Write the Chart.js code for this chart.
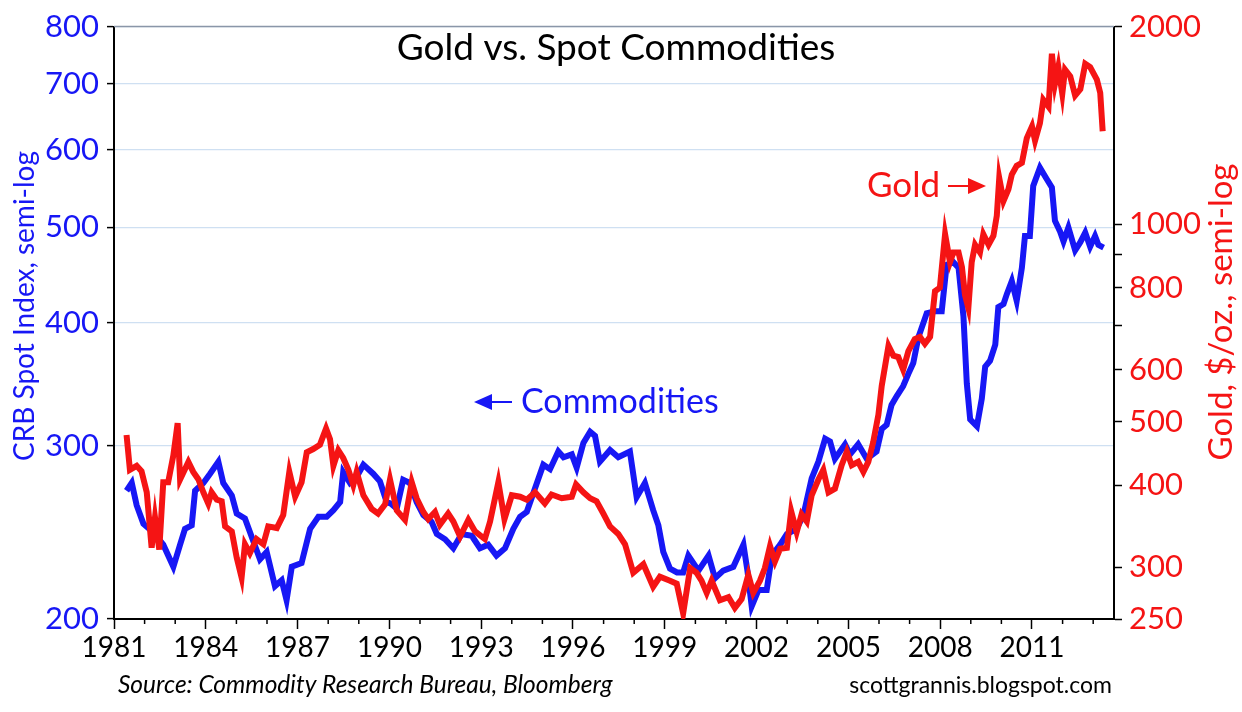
<!DOCTYPE html>
<html>
<head>
<meta charset="utf-8">
<script src="https://cdn.jsdelivr.net/npm/chart.js@4.4.1/dist/chart.umd.min.js"></script>
<style>
  html, body { margin: 0; padding: 0; background: #fff; }
  #wrap { width: 1242px; height: 712px; }
</style>
</head>
<body>
<div id="wrap"><canvas id="myChart" width="1242" height="712"></canvas></div>
<script>
// CRB spot index (left axis)
const crbYears = [1981.41, 1981.58, 1981.74, 1981.96, 1982.28, 1982.61, 1982.94, 1983.16, 1983.32, 1983.54, 1983.65, 1983.92,
  1984.14, 1984.41, 1984.57, 1984.85, 1985.01, 1985.28, 1985.55, 1985.77, 1985.99, 1986.26, 1986.48, 1986.64, 1986.81,
  1987.13, 1987.41, 1987.68, 1987.95, 1988.17, 1988.39, 1988.49, 1988.71, 1988.93, 1989.15, 1989.47, 1989.69, 1989.91,
  1990.05, 1990.24, 1990.45, 1990.67, 1990.89, 1991.11, 1991.38, 1991.55, 1991.82, 1992.09, 1992.36, 1992.69, 1992.96,
  1993.23, 1993.5, 1993.78, 1994.05, 1994.27, 1994.49, 1994.82, 1995.03, 1995.25, 1995.52, 1995.69, 1995.96, 1996.12,
  1996.34, 1996.56, 1996.72, 1996.88, 1997.21, 1997.48, 1997.86, 1998.08, 1998.35, 1998.62, 1998.79, 1998.95, 1999.17,
  1999.4, 1999.6, 1999.77, 2000.1, 2000.43, 2000.64, 2000.91, 2001.24, 2001.57, 2001.7, 2001.84, 2002.06, 2002.33, 2002.5,
  2002.77, 2002.99, 2003.31, 2003.53, 2003.8, 2004.02, 2004.24, 2004.4, 2004.56, 2004.89, 2005.05, 2005.32, 2005.6,
  2005.92, 2006.09, 2006.25, 2006.41, 2006.58, 2006.79, 2006.96, 2007.12, 2007.29, 2007.56, 2007.83, 2008.05, 2008.21,
  2008.43, 2008.6, 2008.76, 2008.87, 2008.98, 2009.2, 2009.36, 2009.47, 2009.63, 2009.8, 2009.9, 2010.07, 2010.18, 2010.34,
  2010.5, 2010.67, 2010.77, 2010.93, 2011.04, 2011.26, 2011.48, 2011.65, 2011.75, 2011.92, 2012.03, 2012.19, 2012.41,
  2012.58, 2012.74, 2012.9, 2013.06, 2013.17, 2013.34];
const crbValues = [270, 275, 261, 250, 245, 238, 226, 238, 247, 249, 270, 275,
  281, 289, 275, 267, 256, 253, 240, 230, 234, 216, 219, 209, 226,
  228, 247, 254, 254, 258, 263, 282, 275, 279, 287, 281, 276, 263,
  262, 259, 277, 275, 263, 255, 251, 244, 241, 236, 244, 243, 236,
  238, 232, 236, 247, 254, 257, 275, 287, 284, 296, 292, 294, 285,
  302, 310, 307, 289, 297, 292, 296, 266, 275, 258, 249, 234, 225,
  223, 223, 232, 224, 232, 220, 224, 226, 238, 224, 206, 214, 214, 232,
  238, 244, 247, 255, 278, 289, 305, 303, 291, 301, 294, 301, 291,
  296, 312, 315, 330, 337, 345, 355, 364, 387, 409, 411, 411, 458,
  461, 455, 406, 347, 319, 314, 335, 361, 366, 380, 415, 418, 428, 441,
  421, 455, 490, 490, 551, 575, 560, 549, 508, 495, 484, 500, 474,
  483, 494, 478, 490, 480, 477];

// Gold, $/oz. (right axis)
const goldYears = [1981.41, 1981.52, 1981.74, 1981.9, 1982.07, 1982.23, 1982.34, 1982.48, 1982.61, 1982.77, 1982.94, 1983.08,
  1983.16, 1983.43, 1983.59, 1983.76, 1983.92, 1984.08, 1984.19, 1984.36, 1984.52, 1984.63, 1984.85, 1985.01, 1985.17,
  1985.28, 1985.44, 1985.66, 1985.88, 1986.04, 1986.32, 1986.53, 1986.73, 1986.92, 1987.13, 1987.3, 1987.51, 1987.73,
  1987.93, 1988.06, 1988.17, 1988.33, 1988.49, 1988.66, 1988.82, 1988.93, 1989.15, 1989.42, 1989.63, 1989.86, 1990.02,
  1990.24, 1990.51, 1990.73, 1990.89, 1991.11, 1991.27, 1991.49, 1991.65, 1991.92, 1992.09, 1992.31, 1992.58, 1992.8,
  1993.12, 1993.29, 1993.56, 1993.76, 1994.0, 1994.27, 1994.49, 1994.76, 1995.08, 1995.3, 1995.63, 1995.96, 1996.1,
  1996.34, 1996.56, 1996.77, 1996.99, 1997.21, 1997.48, 1997.7, 1997.97, 1998.3, 1998.62, 1998.84, 1999.17, 1999.39,
  1999.6, 1999.83, 2000.04, 2000.2, 2000.37, 2000.53, 2000.8, 2001.08, 2001.29, 2001.51, 2001.73, 2001.89, 2002.11,
  2002.27, 2002.44, 2002.6, 2002.77, 2002.99, 2003.13, 2003.31, 2003.47, 2003.64, 2003.8, 2004.02, 2004.18, 2004.35,
  2004.56, 2004.78, 2004.95, 2005.11, 2005.32, 2005.49, 2005.65, 2005.81, 2005.98, 2006.09, 2006.31, 2006.47, 2006.63,
  2006.79, 2006.96, 2007.17, 2007.34, 2007.5, 2007.67, 2007.83, 2007.99, 2008.16, 2008.32, 2008.43, 2008.6, 2008.71,
  2008.81, 2008.92, 2009.03, 2009.14, 2009.3, 2009.41, 2009.58, 2009.74, 2009.85, 2009.93, 2010.07, 2010.23, 2010.34,
  2010.5, 2010.67, 2010.83, 2011.0, 2011.1, 2011.26, 2011.37, 2011.54, 2011.65, 2011.75, 2011.86, 2011.99, 2012.08,
  2012.25, 2012.41, 2012.58, 2012.74, 2012.9, 2013.12, 2013.23, 2013.31];
const goldValues = [477, 422, 428, 420, 390, 321, 357, 319, 404, 404, 444, 497,
  408, 434, 419, 408, 390, 375, 390, 380, 378, 346, 340, 310, 289,
  325, 315, 331, 325, 346, 344, 360, 419, 384, 404, 449, 454, 461,
  488, 470, 428, 452, 440, 422, 400, 419, 386, 368, 362, 374, 408,
  366, 354, 404, 382, 364, 355, 364, 348, 362, 352, 334, 354, 340,
  331, 352, 404, 355, 386, 384, 380, 390, 375, 387, 382, 384, 401,
  390, 382, 378, 362, 346, 337, 325, 294, 303, 280, 290, 286, 283,
  255, 299, 294, 286, 274, 286, 267, 270, 260, 268, 292, 274, 286,
  299, 323, 306, 320, 321, 365, 339, 361, 352, 386, 408, 422, 390,
  395, 429, 450, 429, 434, 419, 434, 465, 512, 567, 652, 630, 627,
  600, 640, 668, 673, 657, 673, 790, 800, 965, 875, 905, 905, 860,
  780, 745, 875, 930, 905, 965, 930, 960, 1030, 1175, 1085, 1130, 1190,
  1227, 1240, 1352, 1409, 1340, 1425, 1547, 1510, 1818, 1635, 1735, 1580, 1720,
  1680, 1570, 1605, 1755, 1735, 1660, 1585, 1385];

const xMajorTicks = [1981, 1984, 1987, 1990, 1993, 1996, 1999, 2002, 2005, 2008, 2011];
const leftTicks = [200, 300, 400, 500, 600, 700, 800];
const rightTicks = [250, 300, 400, 500, 600, 700, 800, 900, 1000, 2000];
const rightLabels = [250, 300, 400, 500, 600, 800, 1000, 2000];

const FONT = 'Lato, "Open Sans", sans-serif';
const BLUE = '#1717f5';
const RED = '#f51414';

// extra text, arrows and minor ticks
const decorPlugin = {
    id: 'decor',
    beforeDatasetsDraw(chart) {
        const ctx = chart.ctx;
        const a = chart.chartArea;
        ctx.save();
        ctx.strokeStyle = '#8a96a8';
        ctx.lineWidth = 1.5;
        ctx.beginPath();
        ctx.moveTo(a.left, a.top);
        ctx.lineTo(a.right, a.top);
        ctx.stroke();
        ctx.restore();
    },
    afterDraw(chart) {
        const ctx = chart.ctx;
        const a = chart.chartArea;
        const xs = chart.scales.x;
        ctx.save();

        // yearly minor ticks
        ctx.strokeStyle = '#000';
        ctx.lineWidth = 1.5;
        for (let yr = 1982; yr <= 2013; yr++) {
            if ((yr - 1981) % 3 === 0) continue;
            const px = xs.getPixelForValue(yr);
            ctx.beginPath();
            ctx.moveTo(px, a.bottom);
            ctx.lineTo(px, a.bottom + 5);
            ctx.stroke();
        }

        // title
        ctx.fillStyle = '#000';
        ctx.font = '37px ' + FONT;
        ctx.textAlign = 'center';
        ctx.textBaseline = 'middle';
        ctx.fillText('Gold vs. Spot Commodities', 616, 48);

        // Commodities label
        ctx.fillStyle = BLUE;
        ctx.strokeStyle = BLUE;
        ctx.font = '34px ' + FONT;
        ctx.textAlign = 'left';
        ctx.fillText('Commodities', 521, 402);
        ctx.lineWidth = 2;
        ctx.beginPath();
        ctx.moveTo(488, 402);
        ctx.lineTo(512, 402);
        ctx.stroke();
        ctx.beginPath();
        ctx.moveTo(474, 402);
        ctx.lineTo(492, 394);
        ctx.lineTo(492, 410);
        ctx.closePath();
        ctx.fill();

        // Gold label
        ctx.fillStyle = RED;
        ctx.strokeStyle = RED;
        ctx.font = '35px ' + FONT;
        ctx.fillText('Gold', 867, 186);
        ctx.beginPath();
        ctx.moveTo(948, 186);
        ctx.lineTo(972, 186);
        ctx.stroke();
        ctx.beginPath();
        ctx.moveTo(986, 186);
        ctx.lineTo(968, 178);
        ctx.lineTo(968, 194);
        ctx.closePath();
        ctx.fill();

        // axis titles
        ctx.textAlign = 'center';
        ctx.fillStyle = BLUE;
        ctx.font = '28px ' + FONT;
        ctx.save();
        ctx.translate(25, 306);
        ctx.rotate(-Math.PI / 2);
        ctx.fillText('CRB Spot Index, semi-log', 0, 0);
        ctx.restore();
        ctx.fillStyle = RED;
        ctx.font = '33px ' + FONT;
        ctx.save();
        ctx.translate(1221, 312);
        ctx.rotate(-Math.PI / 2);
        ctx.fillText('Gold, $/oz., semi-log', 0, 0);
        ctx.restore();

        // footer
        ctx.fillStyle = '#000';
        ctx.font = 'italic 24.5px ' + FONT;
        ctx.textAlign = 'left';
        ctx.fillText('Source: Commodity Research Bureau, Bloomberg', 118, 685);
        ctx.font = '23px ' + FONT;
        ctx.textAlign = 'right';
        ctx.fillText('scottgrannis.blogspot.com', 1112, 686);

        ctx.restore();
    }
};

const ctx = document.getElementById('myChart').getContext('2d');
const myChart = new Chart(ctx, {
    type: 'line',
    data: {
        datasets: [{
            label: 'Gold',
            data: goldYears.map((x, i) => ({x, y: goldValues[i]})),
            yAxisID: 'yR',
            borderColor: RED,
            borderWidth: 6,
            pointRadius: 0,
            tension: 0,
            borderJoinStyle: 'miter'
        }, {
            label: 'CRB',
            data: crbYears.map((x, i) => ({x, y: crbValues[i]})),
            yAxisID: 'yL',
            borderColor: BLUE,
            borderWidth: 6,
            pointRadius: 0,
            tension: 0,
            borderJoinStyle: 'miter'
        }]
    },
    options: {
        responsive: false,
        animation: false,
        devicePixelRatio: 1,
        layout: { padding: { top: 20, left: 0, right: 0, bottom: 0 } },
        plugins: {
            legend: { display: false },
            tooltip: { enabled: false }
        },
        scales: {
            x: {
                type: 'linear',
                min: 1981,
                max: 2013.68,
                afterBuildTicks: s => { s.ticks = xMajorTicks.map(v => ({value: v})); },
                afterFit: s => { s.height = 93; },
                ticks: {
                    callback: v => String(v),
                    color: '#000',
                    font: { family: FONT, size: 28 },
                    padding: 2,
                    maxRotation: 0,
                    autoSkip: false
                },
                grid: { drawOnChartArea: false, tickLength: 10, tickColor: '#000', tickWidth: 1.5 },
                border: { color: '#000', width: 2 }
            },
            yL: {
                type: 'logarithmic',
                position: 'left',
                min: 200,
                max: 800,
                afterBuildTicks: s => { s.ticks = leftTicks.map(v => ({value: v})); },
                afterFit: s => { s.width = 114; },
                ticks: {
                    callback: v => String(v),
                    color: BLUE,
                    font: { family: FONT, size: 31 },
                    padding: 8,
                    autoSkip: false
                },
                grid: { color: '#cfe0f2', lineWidth: 1.2, tickLength: 7, tickColor: '#000', tickWidth: 1.5 },
                border: { color: '#000', width: 2 }
            },
            yR: {
                type: 'logarithmic',
                position: 'right',
                min: 250,
                max: 2000,
                afterBuildTicks: s => { s.ticks = rightTicks.map(v => ({value: v})); },
                afterFit: s => { s.width = 128; },
                ticks: {
                    callback: v => rightLabels.includes(v) ? String(v) : '',
                    color: RED,
                    font: { family: FONT, size: 31 },
                    padding: 7,
                    autoSkip: false
                },
                grid: { drawOnChartArea: false, tickLength: 8, tickColor: '#000', tickWidth: 1.5 },
                border: { color: '#000', width: 2 }
            }
        }
    },
    plugins: [decorPlugin]
});
</script>
</body>
</html>
